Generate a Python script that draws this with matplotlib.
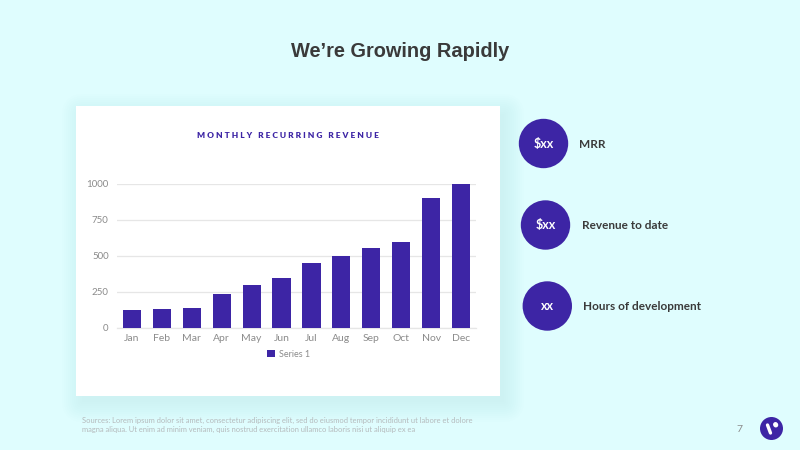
import matplotlib
matplotlib.use("Agg")
import matplotlib.pyplot as plt
from matplotlib.patches import Circle, Rectangle, FancyBboxPatch

months = ["Jan", "Feb", "Mar", "Apr", "May", "Jun", "Jul", "Aug", "Sep", "Oct", "Nov", "Dec"]
revenue = [122, 130, 140, 233, 297, 347, 446, 500, 550, 597, 897, 997]
yticks = [0, 250, 500, 750, 1000]
kpi_values = ["$xx", "$xx", "xx"]
kpi_labels = ["MRR", "Revenue to date", "Hours of development"]

BG = "#DFFDFE"
PURPLE = "#3D25A5"
GREY = "#8B8B8B"
DARK = "#3A3A3A"
W, H = 800, 450

plt.rcParams["font.family"] = ["Lato", "DejaVu Sans"]

fig = plt.figure(figsize=(8, 4.5), dpi=100, facecolor=BG)

# background layer in pixel coords, y going down like the picture
bg = fig.add_axes([0, 0, 1, 1], zorder=0)
bg.set_xlim(0, W)
bg.set_ylim(H, 0)
bg.axis("off")

# soft shadow under the card
for grow in range(22, 0, -2):
    bg.add_patch(FancyBboxPatch((76 + 8 - grow, 106 + 10 - grow), 424 + 2 * grow - 6, 290 + 2 * grow - 6,
                                boxstyle="round,pad=0,rounding_size=%d" % grow,
                                fc="#7FB9C4", ec="none", alpha=0.013))
bg.add_patch(Rectangle((76, 106), 424, 290, fc="white", ec="none"))

# chart
ax = fig.add_axes([117 / W, 1 - 327.7 / H, (476 - 117) / W, (327.7 - 183.5) / H], zorder=1)
ax.patch.set_alpha(0)
x = list(range(len(months)))
ax.bar(x, revenue, width=0.61, color=PURPLE, label="Series 1", zorder=3)
ax.set_xlim(-0.5, 11.5)
ax.set_ylim(0, 1000)
ax.set_xticks(x, months)
ax.set_yticks(yticks)
ax.tick_params(length=0, labelcolor=GREY)
ax.tick_params(axis="x", pad=4.5, labelsize=7.5)
ax.tick_params(axis="y", pad=6, labelsize=7)
ax.grid(axis="y", color="#E6E6E6", lw=0.9, zorder=0)
ax.set_axisbelow(True)
for s in ["top", "right", "left"]:
    ax.spines[s].set_visible(False)
ax.spines["bottom"].set_color("#E6E6E6")
ax.spines["bottom"].set_linewidth(0.9)

leg = ax.legend(loc="center", bbox_to_anchor=(288.5 / W, 1 - 354.5 / H), bbox_transform=fig.transFigure,
                frameon=False, fontsize=6.5, handlelength=0.85, handleheight=0.85, handletextpad=0.5)
for t in leg.get_texts():
    t.set_color(GREY)

# overlay for text and circles
top = fig.add_axes([0, 0, 1, 1], zorder=2)
top.set_xlim(0, W)
top.set_ylim(H, 0)
top.axis("off")
top.patch.set_alpha(0)

top.text(400, 51.5, "We\u2019re Growing Rapidly", ha="center", va="center", fontsize=14.4,
         fontweight="bold", family=["Liberation Sans"], color=DARK)
top.text(287.5, 135, "\u2009\u200a\u200a".join("MONTHLY RECURRING REVENUE"), ha="center", va="center", fontsize=6,
         fontweight="heavy", color=PURPLE)

centers = [(543.5, 143.5), (545.5, 225), (547.3, 306)]
for (cx, cy), val, lab in zip(centers, kpi_values, kpi_labels):
    top.add_patch(Circle((cx, cy), 24.7, fc=PURPLE, ec="none"))
    top.text(cx, cy + 0.5, val, ha="center", va="center", fontsize=9, fontweight="bold", color="white")
    top.text(cx + 36, cy + 0.5, lab, ha="left", va="center", fontsize=8.45, fontweight="bold", color=DARK)

top.text(82, 420.5, "Sources: Lorem ipsum dolor sit amet, consectetur adipiscing elit, sed do eiusmod tempor incididunt ut labore et dolore",
         ha="left", va="center", fontsize=5.4, color="#B5BABC")
top.text(82, 429.5, "magna aliqua. Ut enim ad minim veniam, quis nostrud exercitation ullamco laboris nisi ut aliquip ex ea",
         ha="left", va="center", fontsize=5.4, color="#B5BABC")

top.text(739.5, 429, "7", ha="center", va="center", fontsize=7.5, color=GREY)

# logo
top.add_patch(Circle((771.5, 428.5), 11.5, fc=PURPLE, ec="none"))
top.plot([767.5, 770.5], [425, 433], color="white", lw=2.4, solid_capstyle="round")
top.plot([775.5, 775.8], [424.5, 425], color="white", lw=3.6, solid_capstyle="round")

fig.savefig("out.png", dpi=100, facecolor=BG)
